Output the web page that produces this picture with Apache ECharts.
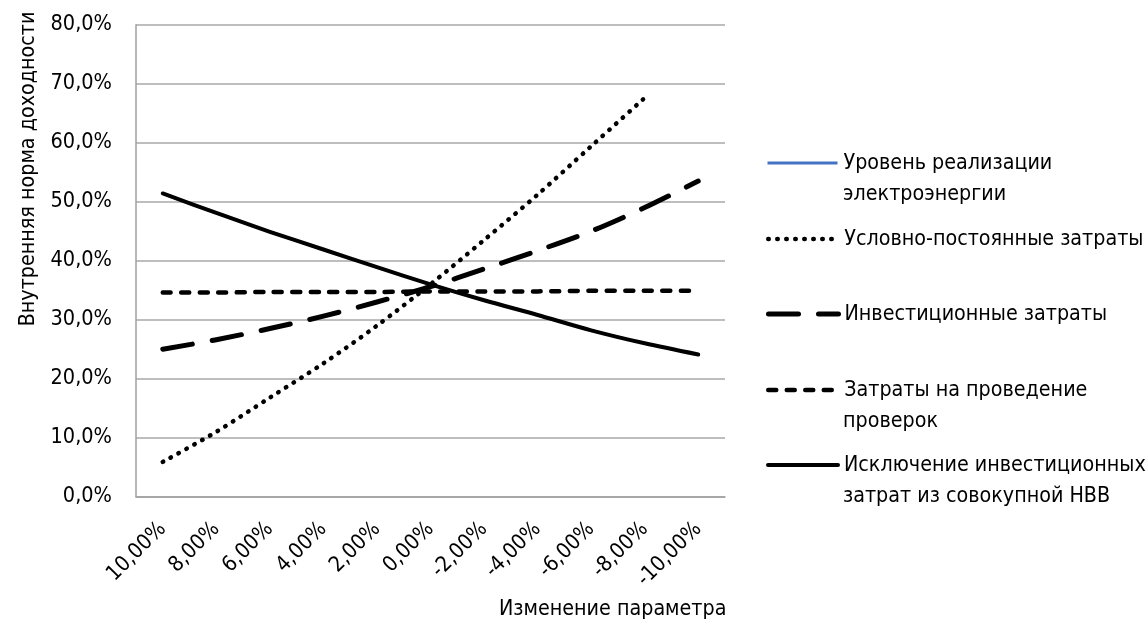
<!DOCTYPE html>
<html>
<head>
<meta charset="utf-8">
<script src="https://cdn.jsdelivr.net/npm/echarts@6/dist/echarts.min.js"></script>
<style>html,body{margin:0;padding:0;background:#fff}#c{width:1147px;height:626px}</style>
</head>
<body>
<div id="c"></div>
<script>
var categories = ['10,00%','8,00%','6,00%','4,00%','2,00%','0,00%','-2,00%','-4,00%','-6,00%','-8,00%','-10,00%'];
var seriesNames = ['Уровень реализации электроэнергии','Условно-постоянные затраты','Инвестиционные затраты','Затраты на проведение проверок','Исключение инвестиционных затрат из совокупной НВВ'];
var salesLevel   = [51.4, 48.1, 44.9, 41.9, 38.9, 36.0, 33.3, 30.8, 28.2, 26.0, 24.1];
var fixedCosts   = [5.9, 11.0, 16.8, 22.6, 29.0, 36.0, 43.5, 51.2, 59.4, 67.6, null];
var investCosts  = [25.0, 26.6, 28.5, 30.6, 33.0, 35.6, 38.6, 41.7, 45.0, 49.0, 53.5];
var auditCosts   = [34.6, 34.6, 34.7, 34.7, 34.7, 34.8, 34.8, 34.8, 34.9, 34.9, 34.9];
var exclInvest   = [51.4, 48.1, 44.9, 41.9, 38.9, 36.0, 33.3, 30.8, 28.2, 26.0, 24.1];
var yTicks = {min: 0, max: 80, interval: 10};

var FONT = '"Liberation Sans Narrow", "Arial Narrow", "DejaVu Sans Condensed", sans-serif';
var FS_TEXT = 21.3;
var chart = echarts.init(document.getElementById('c'), null, {renderer: 'canvas'});

var styles = [
  {color: '#4472C4', width: 2.5, type: 'solid', cap: 'butt'},
  {color: '#000', width: 4.5, type: [0.5, 8.5], cap: 'round'},
  {color: '#000', width: 5, type: [30, 20], cap: 'round'},
  {color: '#000', width: 4.5, type: [8, 10.5], cap: 'round'},
  {color: '#000', width: 4, type: 'solid', cap: 'round'}
];
var datas = [salesLevel, fixedCosts, investCosts, auditCosts, exclInvest];
var legendY = [163, 239, 314, 390, 465];
var firstLines = ['Уровень реализации', 'Условно-постоянные затраты', 'Инвестиционные затраты', 'Затраты на проведение', 'Исключение инвестиционных'];
var secondLines = ['электроэнергии', null, null, 'проверок', 'затрат из совокупной НВВ'];

var series = seriesNames.map(function(n, i){
  return {
    name: n, type: 'line', data: datas[i], symbol: 'none', smooth: 0.3,
    z: i === 0 ? 1 : 2 + i,
    lineStyle: {color: styles[i].color, width: styles[i].width, type: styles[i].type, cap: styles[i].cap, join: 'round'},
    itemStyle: {color: styles[i].color}
  };
});

var legends = seriesNames.map(function(n, i){
  return {
    data: [n], orient: 'vertical', left: 766, top: legendY[i] - 15, padding: 0,
    itemWidth: 70, itemHeight: 14, itemGap: 0,
    selectedMode: false,
    formatter: function(){ return firstLines[i]; },
    itemStyle: {opacity: 0},
    lineStyle: {width: i === 0 ? 3 : styles[i].width, type: styles[i].type, cap: styles[i].cap, color: styles[i].color},
    textStyle: {fontFamily: FONT, fontSize: FS_TEXT, color: '#000', lineHeight: 30, padding: [0,0,0,1]}
  };
});

var graphics = [];
secondLines.forEach(function(t, i){
  if (t) graphics.push({type: 'text', style: {text: t, x: 843, y: legendY[i] + 31, font: FS_TEXT + 'px ' + FONT, fill: '#000', verticalAlign: 'middle'}});
});
graphics.push({type: 'text', style: {text: 'Изменение параметра', x: 499, y: 609, font: FS_TEXT + 'px ' + FONT, fill: '#000', verticalAlign: 'middle'}});
graphics.push({type: 'text', rotation: Math.PI / 2, x: 28, y: 169, style: {text: 'Внутренняя норма доходности', x: 0, y: 0, font: FS_TEXT + 'px ' + FONT, fill: '#000', align: 'center', verticalAlign: 'middle'}});

chart.setOption({
  animation: false,
  backgroundColor: '#fff',
  grid: {left: 136, right: 422, top: 24.7, bottom: 129.3, containLabel: false},
  xAxis: {
    type: 'category', data: categories, boundaryGap: true,
    axisLine: {show: true, lineStyle: {color: '#a0a0a0', width: 1.5}},
    axisTick: {show: false},
    axisLabel: {rotate: 45, margin: 29, fontFamily: FONT, fontSize: 21.5, color: '#000', interval: 0}
  },
  yAxis: {
    type: 'value', min: yTicks.min, max: yTicks.max, interval: yTicks.interval,
    axisLine: {show: true, lineStyle: {color: '#a0a0a0', width: 1.5}},
    axisTick: {show: false},
    splitLine: {show: true, lineStyle: {color: '#a8a8a8', width: 1.5}},
    axisLabel: {margin: 24, fontFamily: FONT, fontSize: 21.5, color: '#000', formatter: function(v){ return v.toFixed(1).replace('.', ',') + '%'; }}
  },
  legend: legends,
  graphic: graphics,
  series: series
});
</script>
</body>
</html>
